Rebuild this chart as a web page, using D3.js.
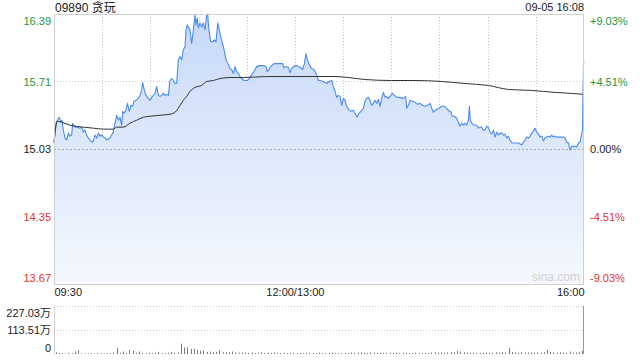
<!DOCTYPE html>
<html><head><meta charset="utf-8">
<script src="https://cdn.jsdelivr.net/npm/d3@7"></script>
<style>
body{margin:0;background:#fff}
svg{display:block}
text{font-family:"Liberation Sans",Arial,"Noto Sans CJK SC",sans-serif}
</style>
</head><body>
<svg id="c" width="640" height="360"></svg>
<script>
const titleText = "09890 贪玩";
const stampText = "09-05 16:08";
const preClose = 15.03;
const priceTicks = [16.39, 15.71, 15.03, 14.35, 13.67];
const pctTicks = ["+9.03%", "+4.51%", "0.00%", "-4.51%", "-9.03%"];
const timeTickMin = [0, 150, 330];
const timeTickLabels = ["09:30", "12:00/13:00", "16:00"];
const volTicks = [227.03, 113.51, 0];
const volTickLabels = ["227.03万", "113.51万", "0"];

// minutes since 09:30 (lunch break removed) and price
const priceMin = [0,1.2,2.1,3.3,4.2,5,5.8,6.9,7.9,8.9,10,11,11.6,13.1,14.5,16.2,17.2,18.3,19.3,20.3,21.4,22.4,23.5,24.5,25.5,26.6,27.6,28.6,29.7,30.7,31.8,32.8,33.8,34.9,35.9,36.9,38,39,40.1,41.1,42.1,42.8,43.6,44.8,45.7,46.9,47.9,49,49.8,51.1,52.5,53.5,54.6,55.2,56,57.3,58.7,59.8,60.8,61.9,62.9,63.9,65,66,67,68.1,69.1,70.2,71.2,72.2,73.3,74.3,75.3,76.4,77.4,78.5,79.5,80.5,81.6,82.2,83,83.9,84.7,85.7,86.8,87.8,88.4,89.2,89.9,90.9,91.9,93,94,95.1,95.7,96.3,97.6,98.8,99.8,100.9,101.9,102.9,103.8,105,105.9,107.1,108.6,109.6,110.6,111.7,112.7,113.7,114.8,115.8,116.9,118.3,119.6,120.4,121.6,123.1,124.5,126.2,127.9,129.3,130.8,132,132.8,134.1,135.5,137,138.6,140.7,142.4,143.2,144.5,145.9,147,148,149,150.7,152.1,153.6,154.8,155.9,156.9,157.7,159,160.4,161.9,163.1,164,164.6,165.6,167.7,169.8,171.2,172.9,173.9,175,176,177,178.1,179.1,180.2,181.2,182.2,183.7,184.9,186.4,187.4,188.7,189.9,191.6,192.6,193.6,194.7,195.7,196.8,197.8,198.8,199.9,200.9,201.9,203,204,205.1,206.1,207.1,208.2,209.8,210.7,211.9,213.4,215.4,217.5,219,219.6,220.6,221.7,223.1,224.8,226.4,227.9,229.3,231,232.7,234.2,235.2,236.2,237.2,238.3,239.7,241.4,243,244.5,245.5,247.2,248,249.3,250.7,251.8,252.8,253.8,254.9,255.9,257,258,258.6,259.2,260.1,261.7,263.2,264.2,265.2,266.3,267.3,268.4,269.4,270.4,271.5,272.5,273.6,274.6,275.7,276.7,277.7,278.8,279.8,280.8,281.9,282.9,283.9,285.4,287.1,289.2,291.2,292.3,293.3,294.3,295.4,296.4,297.4,298.5,299.5,300.5,301.6,302.6,303.7,304.7,305.7,306.8,307.8,308.8,309.9,310.9,312,313,315.1,317.2,318.2,319.2,320.3,321.3,322.4,323.4,324.4,325.5,326.5,327.6,328.2,329,329.7,330];
const prices = [15.10,15.29,15.32,15.35,15.30,15.32,15.22,15.14,15.12,15.19,15.16,15.17,15.29,15.25,15.25,15.24,15.25,15.20,15.22,15.17,15.14,15.12,15.10,15.11,15.17,15.14,15.19,15.16,15.17,15.15,15.14,15.12,15.13,15.14,15.17,15.20,15.29,15.37,15.32,15.35,15.27,15.41,15.39,15.42,15.49,15.41,15.47,15.46,15.51,15.52,15.54,15.57,15.62,15.70,15.64,15.57,15.54,15.52,15.55,15.57,15.59,15.66,15.57,15.56,15.57,15.59,15.57,15.58,15.57,15.72,15.74,15.72,15.69,15.69,15.93,15.96,15.93,16.03,16.06,16.23,16.28,16.25,16.23,16.09,16.23,16.38,16.28,16.35,16.25,16.30,16.26,16.30,16.23,16.38,16.39,16.25,16.11,16.11,16.13,16.11,16.30,16.23,16.16,16.09,16.03,15.93,15.88,15.84,15.83,15.79,15.86,15.81,15.79,15.76,15.74,15.72,15.72,15.72,15.74,15.78,15.81,15.86,15.87,15.87,15.87,15.86,15.81,15.84,15.87,15.89,15.89,15.89,15.89,15.85,15.86,15.85,15.80,15.84,15.86,15.87,15.86,15.85,15.83,15.89,15.99,15.93,15.88,15.84,15.83,15.79,15.76,15.72,15.72,15.71,15.69,15.71,15.72,15.66,15.61,15.55,15.57,15.56,15.47,15.54,15.52,15.46,15.42,15.41,15.42,15.39,15.35,15.39,15.42,15.44,15.51,15.54,15.55,15.52,15.47,15.49,15.52,15.49,15.53,15.46,15.54,15.60,15.55,15.56,15.54,15.57,15.59,15.57,15.55,15.55,15.54,15.56,15.44,15.47,15.52,15.51,15.50,15.48,15.49,15.47,15.46,15.47,15.49,15.44,15.40,15.42,15.43,15.44,15.46,15.46,15.44,15.42,15.40,15.36,15.36,15.34,15.30,15.26,15.29,15.27,15.29,15.27,15.32,15.46,15.32,15.29,15.27,15.27,15.24,15.25,15.25,15.22,15.22,15.26,15.25,15.20,15.18,15.22,15.15,15.20,15.17,15.19,15.19,15.17,15.18,15.14,15.16,15.12,15.09,15.09,15.09,15.07,15.10,15.12,15.15,15.14,15.16,15.19,15.21,15.24,15.20,15.18,15.15,15.16,15.11,15.14,15.15,15.16,15.15,15.17,15.15,15.16,15.15,15.15,15.15,15.14,15.10,15.09,15.02,15.06,15.05,15.06,15.05,15.09,15.10,15.15,15.22,15.89,15.91];

const avgMin = [0,2.1,4.8,10,18.3,24.5,30.7,36.9,39,43.2,47.3,51.5,55.6,59.8,66,72.2,76,78.5,80.5,82.6,84.7,87.8,91.9,95.1,99.2,103.4,109.6,117.9,132.4,163.6,175,183.3,193.6,210.3,224.8,241.4,255.9,270.4,282.9,297.4,312,322.4,330];
const avgPrices = [15.09,15.31,15.30,15.27,15.25,15.24,15.23,15.23,15.25,15.25,15.29,15.32,15.35,15.36,15.37,15.38,15.41,15.47,15.52,15.56,15.61,15.65,15.67,15.71,15.72,15.74,15.75,15.75,15.76,15.76,15.76,15.75,15.73,15.72,15.72,15.71,15.69,15.67,15.63,15.62,15.60,15.59,15.58];

// volume per 2-minute bucket, in 万 shares
const volumes = [8,5,4,3,6,4,12,19,4,3, 3,4,3,5,4,3,4,5,6,28, 6,12,5,19,15,6,12,5,4,6, 4,5,10,5,4,6,10,6,7,49, 31,31,24,24,19,16,16,10,12,9, 10,16,8,9,8,12,7,6,8,7, 6,7,5,6,8,5,6,5,7,5, 5,6,4,5,6,4,5,4,5,6, 5,4,6,5,4,5,7,5,4,5, 6,5,7,5,6,8,6,5,7,6, 5,6,5,4,6,5,7,5,6,5, 4,5,6,5,4,6,5,7,8,6, 7,6,8,9,7,14,12,8,7,6, 7,6,5,6,7,5,6,8,7,9, 6,28,10,8,7,9,6,7,8,6, 7,6,8,19,10,7,6,8,7,6, 12,6,7,10,15];

const svg = d3.select("#c");
const L = 54, R = 584, T = 14, B = 284;
const VT = 306, VB = 354;
const green = "#1c9a3c", red = "#e8322f", dark = "#222";

const x = d3.scaleLinear().domain([0, 330]).range([L, R]);
const y = d3.scaleLinear().domain([13.67, 16.39]).range([B, T]);
const yv = d3.scaleLinear().domain([0, 227.03]).range([VB, VT]);

const defs = svg.append("defs");
const grad = defs.append("linearGradient").attr("id", "g").attr("gradientUnits", "userSpaceOnUse")
  .attr("x1", 0).attr("x2", 0).attr("y1", T).attr("y2", B);
grad.append("stop").attr("offset", 0).attr("stop-color", "#c6d9f8");
grad.append("stop").attr("offset", 1).attr("stop-color", "#f5f8fe");

// vertical grid
const vgrid = d3.range(30, 330, 30);
svg.append("g").selectAll("line").data(vgrid).join("line")
  .attr("x1", d => Math.round(x(d)) + 0.5).attr("x2", d => Math.round(x(d)) + 0.5)
  .attr("y1", T).attr("y2", B)
  .attr("stroke", "#c8c8c8").attr("stroke-dasharray", "1,2");
// horizontal grid
svg.append("g").selectAll("line").data([15.71, 14.35]).join("line")
  .attr("x1", L).attr("x2", R)
  .attr("y1", d => Math.round(y(d)) + 0.5).attr("y2", d => Math.round(y(d)) + 0.5)
  .attr("stroke", "#c8c8c8").attr("stroke-dasharray", "1,2");

// area + lines
const area = d3.area().x((d, i) => x(priceMin[i])).y0(B).y1(d => y(d));
svg.append("path").datum(prices).attr("d", area).attr("fill", "url(#g)");

// preclose line
svg.append("line").attr("x1", L).attr("x2", R)
  .attr("y1", Math.round(y(preClose)) + 0.5).attr("y2", Math.round(y(preClose)) + 0.5)
  .attr("stroke", "#aaa").attr("stroke-dasharray", "2,2");

const line = d3.line().x((d, i) => x(priceMin[i])).y(d => y(d));
svg.append("path").datum(prices).attr("d", line).attr("fill", "none")
  .attr("stroke", "#4a8af4").attr("stroke-width", 1.1).attr("stroke-linejoin", "round");
const aline = d3.line().x((d, i) => x(avgMin[i])).y(d => y(d)).curve(d3.curveMonotoneX);
svg.append("path").datum(avgPrices).attr("d", aline).attr("fill", "none")
  .attr("stroke", "#333").attr("stroke-width", 1);

// border
svg.append("rect").attr("x", L + 0.5).attr("y", T + 0.5).attr("width", R - L - 1).attr("height", B - T)
  .attr("fill", "none").attr("stroke", "#cfcfcf");

// watermark
svg.append("text").attr("x", R - 4).attr("y", B - 3).attr("text-anchor", "end")
  .attr("font-size", 12).attr("fill", "#d0d0d0").text("sina.com");

// left axis
const colorFor = i => i < 2 ? green : (i === 2 ? dark : red);
const leftAxis = svg.append("g").attr("transform", `translate(${L - 3},0)`)
  .call(d3.axisLeft(y).tickValues(priceTicks).tickSize(0).tickPadding(0).tickFormat(d3.format(".2f")));
leftAxis.select(".domain").remove();
leftAxis.selectAll("text").attr("font-size", 11).attr("font-family", null)
  .attr("fill", (d, i) => colorFor(i))
  .attr("dy", (d, i) => i === 0 ? "0.95em" : (i === 4 ? "-0.2em" : "0.35em"));

// right axis
const rightAxis = svg.append("g").attr("transform", `translate(${R + 6},0)`)
  .call(d3.axisRight(y).tickValues(priceTicks).tickSize(0).tickPadding(0).tickFormat((d, i) => pctTicks[i]));
rightAxis.select(".domain").remove();
rightAxis.selectAll("text").attr("font-size", 11).attr("font-family", null)
  .attr("fill", (d, i) => colorFor(i))
  .attr("dy", (d, i) => i === 0 ? "0.95em" : (i === 4 ? "-0.2em" : "0.35em"));

// time axis
const tAxis = svg.append("g").attr("transform", `translate(0,${B + 4})`)
  .call(d3.axisBottom(x).tickValues(timeTickMin).tickSize(0).tickPadding(0).tickFormat((d, i) => timeTickLabels[i]));
tAxis.select(".domain").remove();
tAxis.selectAll("text").attr("font-size", 11).attr("font-family", null).attr("fill", dark)
  .attr("dy", "0.75em")
  .attr("text-anchor", (d, i) => i === 0 ? "start" : (i === 2 ? "end" : "middle"));

// title + stamp
svg.append("text").attr("x", L + 1).attr("y", 12).attr("font-size", 12).attr("fill", dark).text(titleText);
svg.append("text").attr("x", R).attr("y", 11).attr("text-anchor", "end").attr("font-size", 11).attr("fill", dark).text(stampText);

// volume panel
svg.append("g").selectAll("line").data([227.03, 113.51]).join("line")
  .attr("x1", L).attr("x2", R)
  .attr("y1", d => Math.round(yv(d)) + 0.5).attr("y2", d => Math.round(yv(d)) + 0.5)
  .attr("stroke", "#c8c8c8").attr("stroke-dasharray", "1,2");
svg.append("line").attr("x1", L + 0.5).attr("x2", L + 0.5).attr("y1", VT).attr("y2", VB).attr("stroke", "#cfcfcf");
svg.append("line").attr("x1", R - 0.5).attr("x2", R - 0.5).attr("y1", VT).attr("y2", VB).attr("stroke", "#999");
svg.append("g").selectAll("rect").data(volumes).join("rect")
  .attr("x", (d, i) => Math.round(x(2 * i + 1)))
  .attr("width", 1)
  .attr("y", d => yv(d))
  .attr("height", d => VB - yv(d))
  .attr("fill", "#7a7a7a");

const vAxis = svg.append("g").attr("transform", `translate(${L - 3},0)`)
  .call(d3.axisLeft(yv).tickValues(volTicks).tickSize(0).tickPadding(0).tickFormat((d, i) => volTickLabels[i]));
vAxis.select(".domain").remove();
vAxis.selectAll("text").attr("font-size", 11).attr("font-family", null).attr("fill", dark)
  .attr("dy", (d, i) => i === 0 ? "0.95em" : (i === 2 ? "-0.2em" : "0.35em"));
</script>
</body></html>
